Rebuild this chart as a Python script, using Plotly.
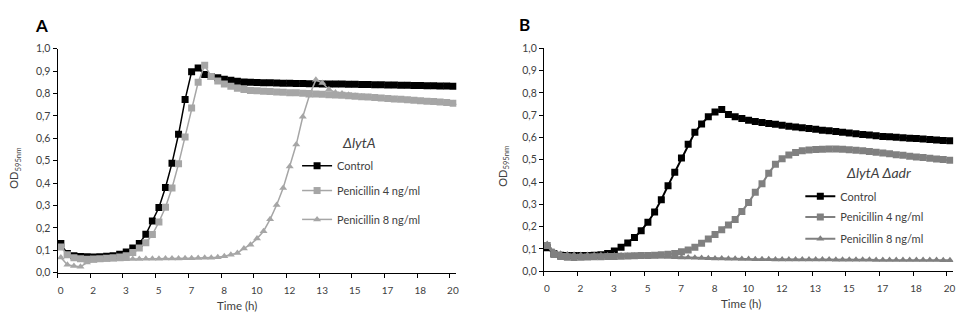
import plotly.graph_objects as go

# ---------------- data (20-min sampling, 0..20 h) ----------------
time_h = [i / 3 for i in range(61)]
x_tick_labels = ["0", "2", "3", "5", "7", "8", "10", "12", "13", "15", "17", "18", "20"]
y_tick_values = [0.0, 0.1, 0.2, 0.3, 0.4, 0.5, 0.6, 0.7, 0.8, 0.9, 1.0]
series_names = ["Control", "Penicillin 4 ng/ml", "Penicillin 8 ng/ml"]

a_control = [0.130, 0.085, 0.076, 0.072, 0.071, 0.070, 0.071, 0.073, 0.076, 0.082,
             0.092, 0.110, 0.130, 0.171, 0.231, 0.291, 0.380, 0.489, 0.618, 0.773,
             0.897, 0.914, 0.885, 0.876, 0.870, 0.864, 0.859, 0.855, 0.852, 0.850,
             0.849, 0.848, 0.848, 0.847, 0.846, 0.846, 0.845, 0.845, 0.844, 0.844,
             0.843, 0.843, 0.842, 0.842, 0.841, 0.841, 0.840, 0.840, 0.839, 0.839,
             0.838, 0.838, 0.837, 0.837, 0.836, 0.836, 0.835, 0.835, 0.834, 0.834,
             0.833]
a_pen4 = [0.115, 0.080, 0.066, 0.062, 0.060, 0.061, 0.062, 0.064, 0.066, 0.070,
          0.076, 0.090, 0.110, 0.133, 0.170, 0.226, 0.292, 0.378, 0.486, 0.606,
          0.735, 0.850, 0.926, 0.876, 0.856, 0.842, 0.832, 0.824, 0.818, 0.814,
          0.812, 0.810, 0.809, 0.807, 0.806, 0.804, 0.803, 0.801, 0.800, 0.798,
          0.797, 0.795, 0.793, 0.792, 0.790, 0.788, 0.786, 0.784, 0.782, 0.780,
          0.778, 0.776, 0.774, 0.772, 0.770, 0.768, 0.766, 0.764, 0.762, 0.760,
          0.757]
a_pen8 = [0.068, 0.035, 0.030, 0.026, 0.045, 0.052, 0.055, 0.057, 0.058, 0.059,
          0.060, 0.061, 0.061, 0.062, 0.062, 0.062, 0.063, 0.063, 0.063, 0.064,
          0.064, 0.065, 0.066, 0.067, 0.069, 0.073, 0.080, 0.088, 0.108, 0.125,
          0.152, 0.185, 0.238, 0.302, 0.378, 0.474, 0.572, 0.696, 0.790, 0.861,
          0.847, 0.818, 0.805, 0.800, 0.795, 0.790, 0.787, 0.784, 0.781, 0.779,
          0.777, 0.775, 0.773, 0.771, 0.769, 0.767, 0.765, 0.763, 0.761, 0.759,
          0.757]

b_control = [0.105, 0.078, 0.072, 0.070, 0.070, 0.070, 0.071, 0.072, 0.074, 0.080,
             0.091, 0.107, 0.127, 0.151, 0.182, 0.220, 0.266, 0.321, 0.384, 0.444,
             0.508, 0.570, 0.623, 0.661, 0.693, 0.714, 0.726, 0.703, 0.693, 0.685,
             0.677, 0.672, 0.667, 0.663, 0.659, 0.655, 0.651, 0.647, 0.644, 0.640,
             0.637, 0.633, 0.630, 0.627, 0.623, 0.620, 0.617, 0.614, 0.611, 0.608,
             0.605, 0.603, 0.601, 0.599, 0.597, 0.595, 0.593, 0.591, 0.589, 0.587,
             0.585]
b_pen4 = [0.115, 0.075, 0.066, 0.063, 0.062, 0.063, 0.064, 0.065, 0.065, 0.066,
          0.066, 0.067, 0.068, 0.069, 0.070, 0.071, 0.072, 0.074, 0.076, 0.080,
          0.087, 0.095, 0.108, 0.125, 0.145, 0.165, 0.186, 0.207, 0.232, 0.268,
          0.308, 0.354, 0.392, 0.440, 0.480, 0.505, 0.522, 0.533, 0.540, 0.544,
          0.546, 0.547, 0.548, 0.548, 0.547, 0.545, 0.543, 0.540, 0.537, 0.534,
          0.530, 0.527, 0.523, 0.520, 0.516, 0.513, 0.510, 0.507, 0.504, 0.501,
          0.498]
b_pen8 = [0.122, 0.088, 0.078, 0.075, 0.074, 0.073, 0.073, 0.072, 0.072, 0.071,
          0.071, 0.070, 0.069, 0.069, 0.068, 0.067, 0.066, 0.065, 0.064, 0.063,
          0.062, 0.061, 0.060, 0.059, 0.058, 0.057, 0.057, 0.056, 0.056, 0.055,
          0.055, 0.054, 0.054, 0.054, 0.053, 0.053, 0.053, 0.053, 0.052, 0.052,
          0.052, 0.052, 0.052, 0.051, 0.051, 0.051, 0.051, 0.051, 0.051, 0.050,
          0.050, 0.050, 0.050, 0.050, 0.050, 0.050, 0.050, 0.050, 0.050, 0.049,
          0.049]

# ---------------- figure ----------------
W, H = 957, 321
FONT = "Lato"
TXT = "#404040"
GREY_A = "#a6a6a6"
GREY_B = "#808080"

fig = go.Figure()


def add(xa, ya, y, name, color, symbol, size, width, legend):
    fig.add_trace(go.Scatter(
        x=time_h, y=y, xaxis=xa, yaxis=ya, mode="lines+markers", name=name,
        line=dict(color=color, width=width),
        marker=dict(symbol=symbol, size=size, color=color, line=dict(width=0)),
        legend=legend, showlegend=True))


add("x", "y", a_control, series_names[0], "#000000", "square", 7, 1.5, "legend")
add("x", "y", a_pen4, series_names[1], GREY_A, "square", 7, 1.5, "legend2")
add("x", "y", a_pen8, series_names[2], GREY_A, "triangle-up", 7, 1.5, "legend3")
add("x2", "y2", b_control, series_names[0], "#000000", "square", 7, 2, "legend4")
add("x2", "y2", b_pen4, series_names[1], GREY_B, "square", 7, 2, "legend5")
add("x2", "y2", b_pen8, series_names[2], GREY_B, "triangle-up", 7, 2, "legend6")

half = 1 / 6
tick_pos = [k * 5 / 3 - half for k in range(len(x_tick_labels))]


def px(x):
    return x / W


def py(y):
    return 1 - y / H


def xaxis(domain, shift):
    return dict(domain=domain, range=[-half, 20 + half], showline=True,
                linecolor="#000000", linewidth=1, ticks="outside", ticklen=4,
                tickcolor="#000000", tickvals=tick_pos, ticktext=x_tick_labels,
                ticklabelshift=shift, ticklabelstandoff=4,
                showgrid=False, zeroline=False,
                tickfont=dict(family=FONT, size=10, color=TXT), fixedrange=True)


def yaxis(domain, anchor):
    return dict(domain=domain, range=[0, 1], showline=True, linecolor="#000000",
                linewidth=1, ticks="outside", ticklen=4, tickcolor="#000000",
                tickvals=y_tick_values, tickformat=".1f", showgrid=False,
                zeroline=False, anchor=anchor,
                tickfont=dict(family=FONT, size=10.5, color=TXT), fixedrange=True)


fig.update_layout(
    width=W, height=H, margin=dict(l=0, r=0, t=0, b=0),
    paper_bgcolor="white", plot_bgcolor="white", separators=",.",
    xaxis=dict(xaxis([px(57.7), px(457.4)], 3), anchor="y"),
    yaxis=yaxis([py(277.0), py(44.4)], "x"),
    xaxis2=dict(xaxis([px(545.0), px(955.3)], 3), anchor="y2"),
    yaxis2=yaxis([py(275.5), py(44.0)], "x2"),
)

leg_common = dict(xanchor="left", yanchor="middle", xref="paper", yref="paper",
                  bgcolor="rgba(0,0,0,0)", borderwidth=0,
                  font=dict(family=FONT, size=11, color=TXT))
legend_pos = {
    "legend": (297.7, 166.0), "legend2": (297.7, 191.7), "legend3": (297.7, 221.7),
    "legend4": (802.0, 197.7), "legend5": (802.0, 219.3), "legend6": (802.0, 241.7),
}
for key, (lx, ly) in legend_pos.items():
    fig.update_layout({key: dict(leg_common, x=px(lx), y=py(ly))})


def ann(text, x, y, size, color=TXT, angle=0, bold=False):
    fig.add_annotation(text=f"<b>{text}</b>" if bold else text, x=px(x), y=py(y),
                       xref="paper", yref="paper", showarrow=False, textangle=angle,
                       xanchor="center", yanchor="middle",
                       font=dict(family=FONT, size=size, color=color))


ann("A", 41.7, 20.7, 17, "#000000", bold=True)
ann("B", 526.0, 19.3, 17, "#000000", bold=True)
ann("OD<sub>595nm</sub>", 15.0, 168.0, 11, angle=-90)
ann("OD<sub>595nm</sub>", 505.0, 166.0, 11, angle=-90)
ann("Time (h)", 237.0, 311.5, 11.5)
ann("Time (h)", 743.0, 309.0, 11.5)
ann("<i>ΔlytA</i>", 359.5, 141.7, 14)
ann("<i>ΔlytA Δadr</i>", 880.0, 172.7, 14)

fig.write_html("out.html", config={"displayModeBar": False})
